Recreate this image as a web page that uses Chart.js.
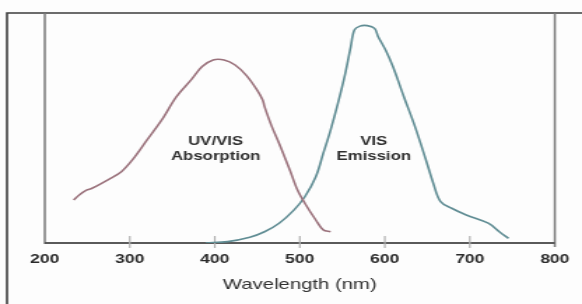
<!DOCTYPE html>
<html>
<head>
<meta charset="utf-8">
<script src="https://cdn.jsdelivr.net/npm/chart.js@4.4.1/dist/chart.umd.min.js"></script>
<style>
  html, body { margin: 0; padding: 0; background: #ffffff; overflow: hidden; }
  #wrap { width: 582px; height: 304px; position: relative; background: #fdfdfd; }
  #c { position: absolute; left: 0; top: 0; transform-origin: 0 0; transform: scaleX(1.39904); }
</style>
</head>
<body>
<div id="wrap"><canvas id="c" width="416" height="304"></canvas></div>
<script>
// ---- data ----
const xTickValues = [200, 300, 400, 500, 600, 700, 800];
const xTitle = 'Wavelength (nm)';

const absorptionWavelength = [234, 240.5, 249, 255.6, 277.2, 290.1, 303, 320.3, 337.6, 354.9, 372.1, 385.1, 398, 410.9, 423.9, 436.8, 449.8, 456.3, 458.5, 467.1, 475.7, 488.7, 497.3, 505.9, 518.8, 527.6, 536.2];
const absorptionValue      = [18.7, 20.9, 23, 23.8, 28.1, 31, 36.1, 44.8, 53.5, 63.6, 70.9, 76.7, 79.6, 79.6, 77.4, 73, 66.5, 62.2, 59.3, 50.6, 43.3, 31.3, 23, 17.3, 10, 5.7, 4.9];

const emissionWavelength = [389.4, 415.2, 441.2, 458.5, 475.7, 493, 505.9, 518.8, 527.6, 536.2, 544.8, 553.5, 559.9, 564.2, 570.7, 579.3, 587.9, 592.2, 600.9, 609.5, 622.4, 635.5, 648.4, 657, 665.6, 678.6, 695.8, 721.7, 734.7, 745.5];
const emissionValue      = [0, 0.6, 2.5, 4.9, 8.6, 14.3, 20.1, 28.8, 39, 49.1, 60.7, 73.8, 85.3, 92.6, 94.3, 94.5, 93.3, 89.7, 83.9, 76.7, 63.6, 50.6, 36.1, 26, 18, 15.1, 12.2, 8.6, 4.9, 2];

const labelLines = [['UV/VIS', 'Absorption'], ['VIS', 'Emission']];
const labelAnchorX = [401, 587];      // wavelength at label centre
const labelAnchorY = [44.1, 44.1];    // intensity at first-line centre

const toPts = (xs, ys) => xs.map((x, i) => ({ x: x, y: ys[i] }));

const framePlugin = {
  id: 'frame',
  beforeDatasetsDraw(chart) {
    const ctx = chart.ctx;
    const a = chart.chartArea;
    const xs = chart.scales.x;
    ctx.save();
    // outer image frame
    ctx.strokeStyle = '#3c3c3c';
    ctx.lineWidth = 1.6;
    ctx.beginPath();
    ctx.moveTo(5, 304); ctx.lineTo(5, a.top); ctx.lineTo(416, a.top);
    ctx.stroke();
    // plot left and right lines
    ctx.strokeStyle = '#7a7a7a';
    ctx.lineWidth = 1.5;
    ctx.beginPath();
    ctx.moveTo(a.left, a.top); ctx.lineTo(a.left, a.bottom + 1);
    ctx.moveTo(a.right, a.top); ctx.lineTo(a.right, a.bottom + 4);
    ctx.stroke();
    // x axis line
    ctx.strokeStyle = '#5a5a5a';
    ctx.lineWidth = 1.8;
    ctx.beginPath();
    ctx.moveTo(a.left, a.bottom); ctx.lineTo(a.right, a.bottom);
    ctx.stroke();
    // tick marks crossing the axis
    ctx.strokeStyle = '#b0b0b0';
    ctx.lineWidth = 1.2;
    ctx.beginPath();
    xTickValues.slice(1, -1).forEach(v => {
      const px = xs.getPixelForValue(v);
      ctx.moveTo(px, a.bottom - 7); ctx.lineTo(px, a.bottom + 5);
    });
    ctx.stroke();
    ctx.restore();
  },
  afterDatasetsDraw(chart) {
    const ctx = chart.ctx;
    const xs = chart.scales.x, ys = chart.scales.y;
    ctx.save();
    ctx.fillStyle = '#2e2e2e';
    ctx.font = 'bold 12px "Liberation Sans", Arial, sans-serif';
    ctx.textAlign = 'center';
    ctx.textBaseline = 'middle';
    labelLines.forEach((lines, i) => {
      const cx = xs.getPixelForValue(labelAnchorX[i]);
      const cy = ys.getPixelForValue(labelAnchorY[i]);
      lines.forEach((t, j) => ctx.fillText(t, cx, cy + j * 15.5));
    });
    ctx.restore();
  }
};

new Chart(document.getElementById('c'), {
  type: 'line',
  data: {
    datasets: [
      {
        label: 'UV/VIS Absorption',
        data: toPts(absorptionWavelength, absorptionValue),
        borderColor: '#9a717b',
        borderWidth: 1.6,
        pointRadius: 0,
        fill: false,
        tension: 0.35
      },
      {
        label: 'VIS Emission',
        data: toPts(emissionWavelength, emissionValue),
        borderColor: '#5f8c93',
        borderWidth: 1.6,
        pointRadius: 0,
        fill: false,
        tension: 0.35
      }
    ]
  },
  options: {
    responsive: false,
    animation: false,
    devicePixelRatio: 1,
    layout: { padding: { left: 32, right: 15, top: 13, bottom: 0 } },
    plugins: { legend: { display: false }, tooltip: { enabled: false } },
    scales: {
      x: {
        type: 'linear',
        min: 200, max: 800,
        afterBuildTicks: s => { s.ticks = xTickValues.map(v => ({ value: v })); },
        afterFit: s => { s.height = 61; },
        grid: { display: false, drawTicks: false },
        border: { display: false },
        ticks: {
          padding: 9,
          color: '#2a2a2a',
          font: { family: '"Liberation Sans", Arial, sans-serif', size: 12.5, weight: 'bold' },
          maxRotation: 0
        },
        title: {
          display: true,
          text: xTitle,
          color: '#2f2f2f',
          font: { family: '"Liberation Sans", Arial, sans-serif', size: 14.5 },
          padding: { top: 0, bottom: 10 }
        }
      },
      y: {
        display: false,
        min: 0, max: 100
      }
    }
  },
  plugins: [framePlugin]
});
</script>
</body>
</html>
